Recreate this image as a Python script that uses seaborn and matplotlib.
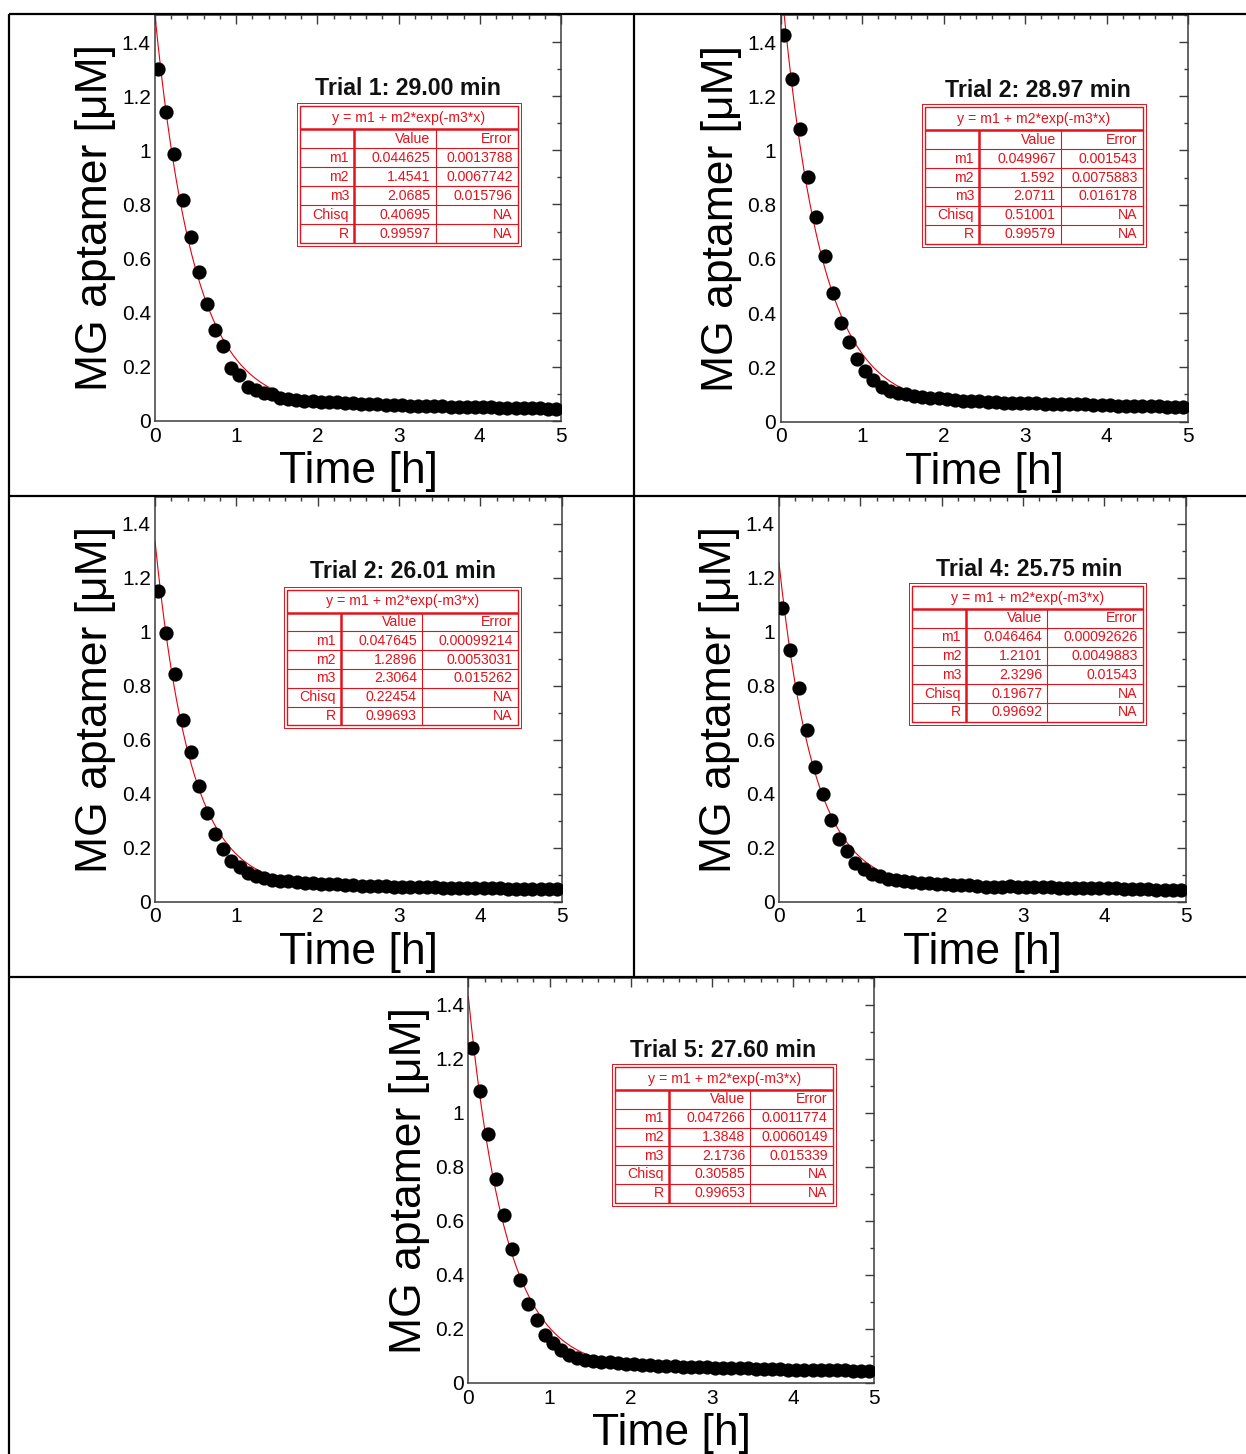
import matplotlib
matplotlib.use("Agg")
import numpy as np
import pandas as pd
import matplotlib.pyplot as plt
import seaborn as sns
from matplotlib.ticker import MultipleLocator, FuncFormatter
from matplotlib.lines import Line2D

# ---------------- data ----------------
times = [0.04, 0.14, 0.24, 0.34, 0.44, 0.54, 0.64, 0.74, 0.84, 0.94,
         1.04, 1.14, 1.24, 1.34, 1.44, 1.54, 1.64, 1.74, 1.84, 1.94,
         2.04, 2.14, 2.24, 2.34, 2.44, 2.54, 2.64, 2.74, 2.84, 2.94,
         3.04, 3.14, 3.24, 3.34, 3.44, 3.54, 3.64, 3.74, 3.84, 3.94,
         4.04, 4.14, 4.24, 4.34, 4.44, 4.54, 4.64, 4.74, 4.84, 4.94]

trial1 = [1.300, 1.142, 0.987, 0.816, 0.681, 0.549, 0.432, 0.335, 0.277, 0.197,
          0.169, 0.127, 0.115, 0.105, 0.099, 0.085, 0.080, 0.077, 0.075, 0.073,
          0.071, 0.070, 0.072, 0.068, 0.066, 0.064, 0.063, 0.062, 0.060, 0.059,
          0.058, 0.057, 0.056, 0.055, 0.055, 0.054, 0.053, 0.052, 0.052, 0.051,
          0.050, 0.051, 0.049, 0.049, 0.048, 0.048, 0.047, 0.047, 0.046, 0.045]
trial2 = [1.426, 1.262, 1.078, 0.904, 0.754, 0.612, 0.474, 0.362, 0.292, 0.230,
          0.187, 0.154, 0.129, 0.114, 0.104, 0.100, 0.095, 0.092, 0.088, 0.085,
          0.082, 0.080, 0.077, 0.076, 0.074, 0.073, 0.072, 0.070, 0.069, 0.070,
          0.068, 0.067, 0.066, 0.066, 0.065, 0.064, 0.063, 0.063, 0.062, 0.061,
          0.060, 0.059, 0.059, 0.058, 0.057, 0.056, 0.056, 0.055, 0.055, 0.055]
trial3 = [1.152, 0.996, 0.845, 0.673, 0.556, 0.430, 0.330, 0.251, 0.195, 0.151,
          0.130, 0.108, 0.095, 0.086, 0.080, 0.078, 0.075, 0.073, 0.071, 0.069,
          0.067, 0.065, 0.064, 0.062, 0.061, 0.060, 0.059, 0.058, 0.057, 0.056,
          0.055, 0.055, 0.054, 0.053, 0.053, 0.052, 0.052, 0.051, 0.051, 0.050,
          0.050, 0.049, 0.049, 0.048, 0.048, 0.047, 0.047, 0.046, 0.046, 0.047]
trial4 = [1.088, 0.934, 0.791, 0.638, 0.500, 0.400, 0.302, 0.231, 0.187, 0.144,
          0.122, 0.104, 0.095, 0.083, 0.079, 0.077, 0.074, 0.071, 0.068, 0.066,
          0.064, 0.063, 0.062, 0.062, 0.058, 0.054, 0.055, 0.056, 0.057, 0.056,
          0.055, 0.054, 0.054, 0.053, 0.052, 0.051, 0.050, 0.050, 0.050, 0.049,
          0.050, 0.049, 0.048, 0.047, 0.047, 0.046, 0.045, 0.045, 0.044, 0.043]
trial5 = [1.240, 1.081, 0.922, 0.755, 0.622, 0.496, 0.382, 0.293, 0.233, 0.179,
          0.150, 0.123, 0.105, 0.092, 0.086, 0.082, 0.079, 0.076, 0.074, 0.072,
          0.069, 0.067, 0.066, 0.064, 0.063, 0.062, 0.061, 0.060, 0.059, 0.058,
          0.057, 0.056, 0.055, 0.055, 0.054, 0.053, 0.052, 0.052, 0.051, 0.050,
          0.050, 0.049, 0.049, 0.048, 0.048, 0.047, 0.047, 0.046, 0.046, 0.045]
series = [trial1, trial2, trial3, trial4, trial5]

titles = ["Trial 1: 29.00 min", "Trial 2: 28.97 min", "Trial 2: 26.01 min",
          "Trial 4: 25.75 min", "Trial 5: 27.60 min"]
formula = "y = m1 + m2*exp(-m3*x)"
row_labels = ["m1", "m2", "m3", "Chisq", "R"]

m1_val = ["0.044625", "0.049967", "0.047645", "0.046464", "0.047266"]
m1_err = ["0.0013788", "0.001543", "0.00099214", "0.00092626", "0.0011774"]
m2_val = ["1.4541", "1.592", "1.2896", "1.2101", "1.3848"]
m2_err = ["0.0067742", "0.0075883", "0.0053031", "0.0049883", "0.0060149"]
m3_val = ["2.0685", "2.0711", "2.3064", "2.3296", "2.1736"]
m3_err = ["0.015796", "0.016178", "0.015262", "0.01543", "0.015339"]
chisq_val = ["0.40695", "0.51001", "0.22454", "0.19677", "0.30585"]
r_val = ["0.99597", "0.99579", "0.99693", "0.99692", "0.99653"]

x_ticks = [0, 1, 2, 3, 4, 5]
y_ticks = [0, 0.2, 0.4, 0.6, 0.8, 1.0, 1.2, 1.4]

# ---------------- style ----------------
sns.set_theme(style="white")
plt.rcParams["font.family"] = ["Liberation Sans", "DejaVu Sans"]
plt.rcParams["text.color"] = "black"
plt.rcParams["axes.labelcolor"] = "black"

W, H = 1246, 1454
fig = plt.figure(figsize=(W / 100, H / 100), dpi=100)
fig.patch.set_facecolor("white")

# panel rectangles in pixels: left, top, width, height
panel_px = [(155, 15, 406, 406), (780.5, 15, 407.5, 406.5),
            (155, 497, 406.7, 404.7), (779, 497, 406.7, 404.7),
            (468.3, 978, 406, 405)]
# table layout in axes fractions: left, right, top, bottom, col1, col2, title_x, title_y
table_layout = [(0.350, 0.901, 0.783, 0.431, 0.490, 0.691, 0.624, 0.818),
                (0.348, 0.896, 0.780, 0.430, 0.487, 0.688, 0.632, 0.815),
                (0.317, 0.899, 0.778, 0.428, 0.457, 0.656, 0.610, 0.815),
                (0.320, 0.902, 0.787, 0.437, 0.460, 0.660, 0.615, 0.820),
                (0.355, 0.905, 0.787, 0.438, 0.494, 0.694, 0.627, 0.822)]

RED = "#e3121b"
SPINE = "#3c3c3c"


def draw_table(ax, k, wpx, hpx):
    x0, x1, yt, yb, c1, c2, tx, ty = table_layout[k]
    dx, dy = 3.0 / wpx, 3.0 / hpx
    kw = dict(transform=ax.transAxes, color=RED, clip_on=False, solid_capstyle="butt")

    def line(xs, ys, lw):
        ax.add_line(Line2D(xs, ys, lw=lw, **kw))

    # double outer border
    line([x0, x1, x1, x0, x0], [yt, yt, yb, yb, yt], 0.7)
    ix0, ix1, iyt, iyb = x0 + dx, x1 - dx, yt - dy, yb + dy
    line([ix0, ix1, ix1, ix0, ix0], [iyt, iyt, iyb, iyb, iyt], 1.0)
    inner_h = iyt - iyb
    head_b = iyt - inner_h * 0.168
    rh = (head_b - iyb) / 6.0
    line([ix0, ix1], [head_b, head_b], 1.8)
    for i in range(1, 6):
        yy = head_b - i * rh
        line([ix0, ix1], [yy, yy], 0.8)
    line([c1, c1], [head_b, iyb], 1.8)
    line([c2, c2], [head_b, iyb], 0.8)

    tkw = dict(transform=ax.transAxes, color=RED, fontsize=10.2, va="center", clip_on=False)
    ax.text((ix0 + ix1) / 2, (iyt + head_b) / 2, formula, ha="center", **tkw)
    p_lab, p_val = 5.0 / wpx, 5.0 / wpx
    rows = [("", "Value", "Error"),
            (row_labels[0], m1_val[k], m1_err[k]),
            (row_labels[1], m2_val[k], m2_err[k]),
            (row_labels[2], m3_val[k], m3_err[k]),
            (row_labels[3], chisq_val[k], "NA"),
            (row_labels[4], r_val[k], "NA")]
    for i, (a, b, c) in enumerate(rows):
        yc = head_b - (i + 0.5) * rh
        ax.text(c1 - p_lab, yc, a, ha="right", **tkw)
        ax.text(c2 - p_val, yc, b, ha="right", **tkw)
        ax.text(ix1 - p_val, yc, c, ha="right", **tkw)

    ax.text(tx, ty, titles[k], transform=ax.transAxes, ha="center", va="center",
            fontsize=16.7, fontweight="bold", color="#111111")


fmt = FuncFormatter(lambda v, p: "%g" % round(v, 6))

for k in range(5):
    l, t, w, h = panel_px[k]
    ax = fig.add_axes([l / W, 1 - (t + h) / H, w / W, h / H])
    df = pd.DataFrame({"Time": times, "Conc": series[k]})
    m1 = float(m1_val[k]); m2 = float(m2_val[k]); m3 = float(m3_val[k])
    xf = np.linspace(0, 5, 400)
    fit = pd.DataFrame({"Time": xf, "Fit": m1 + m2 * np.exp(-m3 * xf)})
    sns.lineplot(data=fit, x="Time", y="Fit", color="#e8000b", lw=0.8, ax=ax, zorder=2)
    sns.scatterplot(data=df, x="Time", y="Conc", color="black", s=105, linewidth=0,
                    ax=ax, zorder=3)
    ax.set_xlim(0, 5)
    ax.set_ylim(0, 1.5)
    ax.set_xticks(x_ticks)
    ax.set_yticks(y_ticks)
    ax.xaxis.set_minor_locator(MultipleLocator(0.2))
    ax.yaxis.set_minor_locator(MultipleLocator(0.1))
    ax.xaxis.set_major_formatter(fmt)
    ax.yaxis.set_major_formatter(fmt)
    ax.tick_params(which="both", direction="in", top=True, right=True,
                   color=SPINE, width=1.0, labelsize=15, labelcolor="black")
    ax.tick_params(which="major", length=6.5)
    ax.tick_params(which="minor", length=3.2)
    ax.tick_params(axis="x", which="major", pad=4)
    ax.tick_params(axis="y", which="major", pad=3)
    for s in ax.spines.values():
        s.set_color(SPINE)
        s.set_linewidth(1.1)
    ax.set_xlabel("Time [h]", fontsize=32, color="black")
    ax.set_ylabel("MG aptamer [μM]", fontsize=32, color="black")
    ax.xaxis.set_label_coords(0.5, -0.074)
    ax.yaxis.set_label_coords(-0.095, 0.5)
    draw_table(ax, k, w, h)

# document table grid lines
gkw = dict(transform=fig.transFigure, color="black", lw=1.6, solid_capstyle="butt")
def fline(xs, ys):
    fig.add_artist(Line2D([x / W for x in xs], [1 - y / H for y in ys], **gkw))

fline([9, W], [14, 14])
fline([9, W], [495.5, 495.5])
fline([9, W], [977, 977])
fline([9, 9], [14, H])
fline([634, 634], [14, 977])

fig.savefig("out.png", dpi=100, facecolor="white")
